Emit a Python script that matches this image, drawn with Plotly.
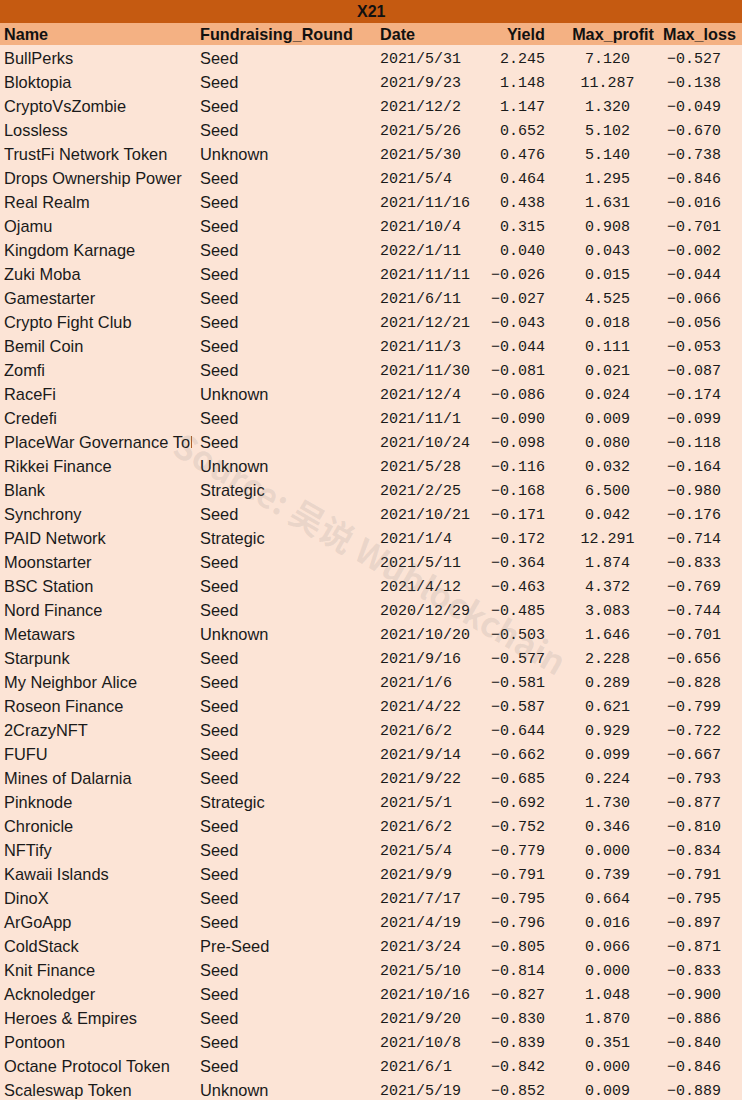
import plotly.graph_objects as go

title = "X21"
columns = ["Name", "Fundraising_Round", "Date", "Yield", "Max_profit", "Max_loss"]
names = ["BullPerks", "Bloktopia", "CryptoVsZombie", "Lossless", "TrustFi Network Token", "Drops Ownership Power", "Real Realm", "Ojamu", "Kingdom Karnage", "Zuki Moba", "Gamestarter", "Crypto Fight Club", "Bemil Coin", "Zomfi", "RaceFi", "Credefi", "PlaceWar Governance Tol", "Rikkei Finance", "Blank", "Synchrony", "PAID Network", "Moonstarter", "BSC Station", "Nord Finance", "Metawars", "Starpunk", "My Neighbor Alice", "Roseon Finance", "2CrazyNFT", "FUFU", "Mines of Dalarnia", "Pinknode", "Chronicle", "NFTify", "Kawaii Islands", "DinoX", "ArGoApp", "ColdStack", "Knit Finance", "Acknoledger", "Heroes & Empires", "Pontoon", "Octane Protocol Token", "Scaleswap Token"]
rounds = ["Seed", "Seed", "Seed", "Seed", "Unknown", "Seed", "Seed", "Seed", "Seed", "Seed", "Seed", "Seed", "Seed", "Seed", "Unknown", "Seed", "Seed", "Unknown", "Strategic", "Seed", "Strategic", "Seed", "Seed", "Seed", "Unknown", "Seed", "Seed", "Seed", "Seed", "Seed", "Seed", "Strategic", "Seed", "Seed", "Seed", "Seed", "Seed", "Pre-Seed", "Seed", "Seed", "Seed", "Seed", "Seed", "Unknown"]
dates = ["2021/5/31", "2021/9/23", "2021/12/2", "2021/5/26", "2021/5/30", "2021/5/4", "2021/11/16", "2021/10/4", "2022/1/11", "2021/11/11", "2021/6/11", "2021/12/21", "2021/11/3", "2021/11/30", "2021/12/4", "2021/11/1", "2021/10/24", "2021/5/28", "2021/2/25", "2021/10/21", "2021/1/4", "2021/5/11", "2021/4/12", "2020/12/29", "2021/10/20", "2021/9/16", "2021/1/6", "2021/4/22", "2021/6/2", "2021/9/14", "2021/9/22", "2021/5/1", "2021/6/2", "2021/5/4", "2021/9/9", "2021/7/17", "2021/4/19", "2021/3/24", "2021/5/10", "2021/10/16", "2021/9/20", "2021/10/8", "2021/6/1", "2021/5/19"]
yields = ["2.245", "1.148", "1.147", "0.652", "0.476", "0.464", "0.438", "0.315", "0.040", "−0.026", "−0.027", "−0.043", "−0.044", "−0.081", "−0.086", "−0.090", "−0.098", "−0.116", "−0.168", "−0.171", "−0.172", "−0.364", "−0.463", "−0.485", "−0.503", "−0.577", "−0.581", "−0.587", "−0.644", "−0.662", "−0.685", "−0.692", "−0.752", "−0.779", "−0.791", "−0.795", "−0.796", "−0.805", "−0.814", "−0.827", "−0.830", "−0.839", "−0.842", "−0.852"]
max_profit = ["7.120", "11.287", "1.320", "5.102", "5.140", "1.295", "1.631", "0.908", "0.043", "0.015", "4.525", "0.018", "0.111", "0.021", "0.024", "0.009", "0.080", "0.032", "6.500", "0.042", "12.291", "1.874", "4.372", "3.083", "1.646", "2.228", "0.289", "0.621", "0.929", "0.099", "0.224", "1.730", "0.346", "0.000", "0.739", "0.664", "0.016", "0.066", "0.000", "1.048", "1.870", "0.351", "0.000", "0.009"]
max_loss = ["−0.527", "−0.138", "−0.049", "−0.670", "−0.738", "−0.846", "−0.016", "−0.701", "−0.002", "−0.044", "−0.066", "−0.056", "−0.053", "−0.087", "−0.174", "−0.099", "−0.118", "−0.164", "−0.980", "−0.176", "−0.714", "−0.833", "−0.769", "−0.744", "−0.701", "−0.656", "−0.828", "−0.799", "−0.722", "−0.667", "−0.793", "−0.877", "−0.810", "−0.834", "−0.791", "−0.795", "−0.897", "−0.871", "−0.833", "−0.900", "−0.886", "−0.840", "−0.846", "−0.889"]
watermark = "Source: 吴说 Wublockchain"

BODY = "Liberation Sans"
NUM = "Liberation Mono"
W, H, TOP = 748, 1100, 20
NB = "\u00a0"
def py(px):
    return (H - px) / (H - TOP)

# The table measures and enlarges any row whose text holds "&", so that one name is laid over its row instead.
amp_rows = [i for i, n in enumerate(names) if "&" in n]
name_cells = ["" if "&" in n else n.replace(" ", NB) for n in names]
amp_notes = [dict(text=names[i], xref="paper", yref="paper", x=6 / W, y=py(46 + 24 * i + 12),
                  xanchor="left", yanchor="middle", showarrow=False,
                  font=dict(family=BODY, size=16.4, color="#1a1a1a")) for i in amp_rows]

fig = go.Figure(go.Table(
    domain=dict(x=[0, 1], y=[0, 1]),
    columnwidth=[196, 180, 98, 83, 109, 82],
    header=dict(values=columns,
                align=["left", "left", "left", "right", "right", "right"],
                fill_color="#f4b183", line_width=0, height=24,
                font=dict(family=BODY, size=16.2, color="#111", weight="bold")),
    cells=dict(values=[name_cells, rounds, dates, yields, max_profit, max_loss],
               align=["left", "left", "left", "right", "center", "center"],
               suffix=["", "", "", "", "", NB + NB],
               fill_color="#fce4d6", line_width=0, height=24,
               font=dict(family=[BODY, BODY, NUM, NUM, NUM, NUM], size=[16.4, 16.4, 15, 15, 15, 15], color="#1a1a1a")),
))
fig.update_layout(
    width=W, height=H, margin=dict(l=0, r=0, t=TOP, b=0),
    paper_bgcolor="#fce4d6", showlegend=False,
    shapes=[
        dict(type="rect", xref="paper", yref="paper", x0=0, x1=1, y0=py(23), y1=py(0),
             fillcolor="#c55a11", line_width=0, layer="above"),
        dict(type="rect", xref="paper", yref="paper", x0=0, x1=1, y0=py(45), y1=py(44),
             fillcolor="#f4b183", line_width=0, layer="above"),
    ],
    annotations=[
        dict(text=title, xref="paper", yref="paper", x=375 / W, y=py(11.5),
             xanchor="center", yanchor="middle", showarrow=False,
             font=dict(family=BODY, size=16, color="#111", weight="bold")),
        dict(text=watermark, xref="paper", yref="paper", x=375 / W, y=py(552),
             xanchor="center", yanchor="middle", showarrow=False, textangle=30,
             font=dict(family="Noto Sans CJK SC", size=34, color="rgba(110,110,110,0.13)", weight="bold")),
    ] + amp_notes,
)
fig.write_html("out.html", config=dict(displayModeBar=False),
               post_script="document.documentElement.style.overflow='hidden';document.body.style.margin='0 0 0 -4px';")
